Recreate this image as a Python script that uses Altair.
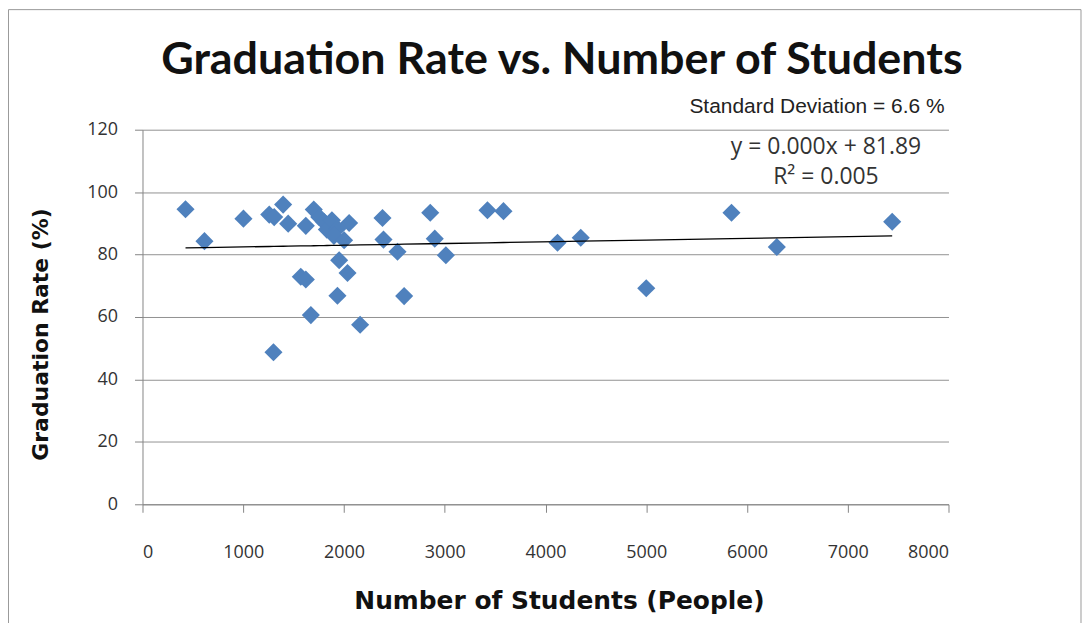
import altair as alt
import pandas as pd

# ---- data ----
students = [427, 615, 1002, 1258, 1307, 1300, 1396, 1446, 1571, 1621, 1621, 1671,
            1700, 1754, 1800, 1830, 1880, 1935, 1900, 1952, 1935, 2001, 2035, 2051,
            2160, 2382, 2392, 2531, 2597, 2856, 2901, 3011, 3424, 3583, 4119, 4350,
            5000, 5846, 6296, 7441]
grad_rate = [94.5, 84.3, 91.5, 92.8, 92.0, 48.7, 96.0, 89.9, 72.9, 72.0, 89.2, 60.6,
             94.4, 92.0, 90.5, 88.0, 91.0, 88.3, 86.0, 78.2, 66.8, 84.6, 74.1, 90.1,
             57.5, 91.7, 84.8, 80.9, 66.7, 93.4, 85.1, 79.8, 94.2, 93.9, 83.8, 85.4,
             69.2, 93.4, 82.4, 90.5]

trend_slope = 0.00055
trend_intercept = 81.89

x_ticks = [0, 1000, 2000, 3000, 4000, 5000, 6000, 7000, 8000]
y_ticks = [0, 20, 40, 60, 80, 100, 120]

title_text = "Graduation Rate vs. Number of Students"
x_title = "Number of Students (People)"
y_title = "Graduation Rate (%)"
sd_text = "Standard Deviation = 6.6 %"
eq_text = "y = 0.000x + 81.89"
r2_text = "R\u00b2 = 0.005"

df = pd.DataFrame({"students": students, "rate": grad_rate})

W, H = 809, 376
GRAY = "#868686"
LABEL_FONT = "Open Sans"
TITLE_FONT = "DejaVu Sans"

x_enc = alt.X("students:Q",
              scale=alt.Scale(domain=[0, 8000], nice=False),
              axis=alt.Axis(values=x_ticks, grid=False, title=x_title, format="d",
                            titleX=418, titleY=105, titleBaseline="alphabetic",
                            titleAlign="center",
                            labelBaseline="alphabetic", labelPadding=45))
y_enc = alt.Y("rate:Q",
              scale=alt.Scale(domain=[0, 120], nice=False),
              axis=alt.Axis(values=y_ticks, grid=True, title=y_title, format="d",
                            titleX=-95, titleY=205, titleBaseline="alphabetic",
                            titleAlign="center", titleAngle=-90,
                            labelPadding=17))

points = alt.Chart(df).mark_point(
    shape="diamond", filled=True, size=330, color="#4F81BD", opacity=1
).encode(x=x_enc, y=y_enc)

trend = alt.Chart(df).transform_calculate(
    fit=f"{trend_intercept} + {trend_slope} * datum.students"
).mark_line(color="black", strokeWidth=1.3).encode(
    x="students:Q", y="fit:Q"
)

one = pd.DataFrame({"k": [0]})

def label(text, x, y, size, font, align="center", weight="normal", color="#222"):
    return alt.Chart(one).mark_text(
        text=text, fontSize=size, font=font, align=align, baseline="alphabetic",
        fontWeight=weight, color=color
    ).encode(x=alt.value(x), y=alt.value(y))

title = label(title_text, 421, -56, 45, "Lato", weight="bold", color="#111")
sd = label(sd_text, 805, -17, 21, "Liberation Sans", align="right")
eq = label(eq_text, 686, 24, 23, LABEL_FONT, color="#333")
r2 = label(r2_text, 686, 55, 23, LABEL_FONT, color="#333")

border = alt.Chart(one).mark_rect(fill="transparent", stroke="#9a9a9a", strokeWidth=1).encode(
    x=alt.value(-134.5), x2=alt.value(942), y=alt.value(-120.5), y2=alt.value(520)
)

chart = alt.layer(border, points, trend, title, sd, eq, r2).properties(
    width=W, height=H,
    autosize=alt.AutoSizeParams(type="none"),
    padding={"left": 135, "top": 121, "right": 135, "bottom": 118},
    background="white",
).configure_view(stroke=None).configure_axis(
    domainColor=GRAY, tickColor=GRAY, gridColor=GRAY, gridOpacity=0.9,
    tickSize=8, labelFont=LABEL_FONT, labelFontSize=18, labelColor="#333",
    titleFont=TITLE_FONT, titleFontWeight="bold", titleColor="#111",
).configure_axisX(titleFontSize=25).configure_axisY(titleFontSize=22)

chart.save("out.html", embed_options={"renderer": "svg", "actions": False})
